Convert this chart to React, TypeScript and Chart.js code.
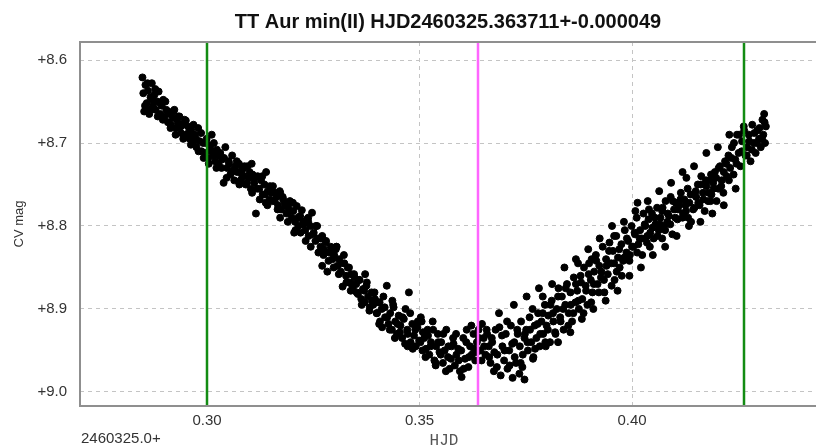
import React, { useEffect, useRef } from "react";
import { Chart, registerables } from "chart.js";

Chart.register(...registerables);

const titleText = "TT Aur min(II) HJD2460325.363711+-0.000049";
const yAxisLabel = "CV mag";
const xAxisLabel = "HJD";
const xOffsetLabel = "2460325.0+";
const xTicks = [0.3, 0.35, 0.4];
const yTicks = [8.6, 8.7, 8.8, 8.9, 9.0];
const xRange = [0.2701, 0.4433];
const yRange = [8.5783, 9.0169];
const minimumHjd = [0.363711];
const boundaryHjd = [0.3, 0.4264];

const hjd = [
  0.2848, 0.2850, 0.2852, 0.2855, 0.2858, 0.2861, 0.2864, 0.2867, 0.2870, 0.2873,
  0.2876, 0.2879, 0.2883, 0.2886, 0.2890, 0.2893, 0.2897, 0.2900, 0.2904, 0.2908,
  0.2912, 0.2915, 0.2919, 0.2923, 0.2927, 0.2931, 0.2935, 0.2939, 0.2943, 0.2947,
  0.2951, 0.2955, 0.2959, 0.2963, 0.2967, 0.2971, 0.2975, 0.2979, 0.2983, 0.2987,
  0.2991, 0.2995, 0.2999, 0.3003, 0.3007, 0.3011, 0.3015, 0.3019, 0.3023, 0.3027,
  0.3031, 0.3035, 0.3039, 0.3043, 0.3047, 0.3051, 0.3055, 0.3059, 0.3063, 0.3067,
  0.3071, 0.3075, 0.3079, 0.3083, 0.3087, 0.3091, 0.3095, 0.3099, 0.3103, 0.3107,
  0.3111, 0.3115, 0.3119, 0.3123, 0.3127, 0.3131, 0.3135, 0.3139, 0.3143, 0.3147,
  0.3151, 0.3155, 0.3159, 0.3163, 0.3167, 0.3171, 0.3175, 0.3179, 0.3183, 0.3187,
  0.3191, 0.3195, 0.3199, 0.3203, 0.3207, 0.3211, 0.3215, 0.3219, 0.3223, 0.3227,
  0.3231, 0.3235, 0.3239, 0.3243, 0.3247, 0.3251, 0.3255, 0.3259, 0.3263, 0.3267,
  0.3271, 0.3275, 0.3279, 0.3283, 0.3287, 0.3291, 0.3295, 0.3299, 0.3303, 0.3307,
  0.3311, 0.3315, 0.3319, 0.3323, 0.3327, 0.3331, 0.3335, 0.3339, 0.3343, 0.3347,
  0.3351, 0.3355, 0.3359, 0.3363, 0.3367, 0.3371, 0.3375, 0.3379, 0.3383, 0.3387,
  0.3391, 0.3395, 0.3399, 0.3403, 0.3407, 0.3411, 0.3415, 0.3419, 0.3423, 0.3427,
  0.3431, 0.3435, 0.3439, 0.3443, 0.3447, 0.3451, 0.3455, 0.3459, 0.3463, 0.3467,
  0.3471, 0.3475, 0.3479, 0.3483, 0.3487, 0.3491, 0.3495, 0.3499, 0.3503, 0.3507,
  0.3511, 0.3515, 0.3519, 0.3523, 0.3527, 0.3531, 0.3535, 0.3539, 0.3543, 0.3547,
  0.3551, 0.3555, 0.3559, 0.3563, 0.3567, 0.3571, 0.3575, 0.3579, 0.3583, 0.3587,
  0.3591, 0.3595, 0.3599, 0.3603, 0.3607, 0.3611, 0.3615, 0.3619, 0.3623, 0.3627,
  0.3631, 0.3635, 0.3639, 0.3643, 0.3647, 0.3651, 0.3655, 0.3659, 0.3663, 0.3667,
  0.3671, 0.3675, 0.3679, 0.3683, 0.3687, 0.3691, 0.3695, 0.3699, 0.3703, 0.3707,
  0.3711, 0.3715, 0.3719, 0.3723, 0.3727, 0.3731, 0.3735, 0.3739, 0.3743, 0.3747,
  0.3751, 0.3755, 0.3759, 0.3763, 0.3767, 0.3771, 0.3775, 0.3779, 0.3783, 0.3787,
  0.3791, 0.3795, 0.3799, 0.3803, 0.3807, 0.3811, 0.3815, 0.3819, 0.3823, 0.3827,
  0.3831, 0.3835, 0.3839, 0.3843, 0.3847, 0.3851, 0.3855, 0.3859, 0.3863, 0.3867,
  0.3871, 0.3875, 0.3879, 0.3883, 0.3887, 0.3891, 0.3895, 0.3899, 0.3903, 0.3907,
  0.3911, 0.3915, 0.3919, 0.3923, 0.3927, 0.3931, 0.3935, 0.3939, 0.3943, 0.3947,
  0.3951, 0.3955, 0.3959, 0.3963, 0.3967, 0.3971, 0.3975, 0.3979, 0.3983, 0.3987,
  0.3991, 0.3995, 0.3999, 0.4003, 0.4007, 0.4011, 0.4015, 0.4019, 0.4023, 0.4027,
  0.4031, 0.4035, 0.4039, 0.4043, 0.4047, 0.4051, 0.4055, 0.4059, 0.4063, 0.4067,
  0.4071, 0.4075, 0.4079, 0.4083, 0.4087, 0.4091, 0.4095, 0.4099, 0.4103, 0.4107,
  0.4111, 0.4115, 0.4119, 0.4123, 0.4127, 0.4131, 0.4135, 0.4139, 0.4143, 0.4147,
  0.4151, 0.4155, 0.4159, 0.4163, 0.4167, 0.4171, 0.4175, 0.4179, 0.4183, 0.4187,
  0.4191, 0.4195, 0.4199, 0.4203, 0.4207, 0.4211, 0.4215, 0.4219, 0.4223, 0.4227,
  0.4231, 0.4235, 0.4239, 0.4243, 0.4247, 0.4251, 0.4255, 0.4259, 0.4263, 0.4267,
  0.4271, 0.4275, 0.4279, 0.4283, 0.4287, 0.4291, 0.4295, 0.4299, 0.4303, 0.4307,
  0.4309, 0.4311, 0.4313, 0.4315,
  0.2854, 0.2860, 0.2866, 0.2872, 0.2878, 0.2884, 0.2890, 0.2896, 0.2902, 0.2908,
  0.2914, 0.2920, 0.2926, 0.2932, 0.2938, 0.2944, 0.2950, 0.2956, 0.2962, 0.2968,
  0.2974, 0.2980, 0.2986, 0.2992, 0.2998, 0.3004, 0.3010, 0.3016, 0.3022, 0.3028,
  0.3034, 0.3040, 0.3046, 0.3052, 0.3058, 0.3064, 0.3070, 0.3076, 0.3082, 0.3088,
  0.3094, 0.3100, 0.3106, 0.3112, 0.3118, 0.3124, 0.3130, 0.3136, 0.3142, 0.3148,
  0.3154, 0.3160, 0.3166, 0.3172, 0.3178, 0.3184, 0.3190, 0.3196, 0.3202, 0.3208,
  0.3214, 0.3220, 0.3226, 0.3232, 0.3238, 0.3244, 0.3250, 0.3256, 0.3262, 0.3268,
  0.3274, 0.3280, 0.3286, 0.3292, 0.3298, 0.3304, 0.3310, 0.3316, 0.3322, 0.3328,
  0.3334, 0.3340, 0.3346, 0.3352, 0.3358, 0.3364, 0.3370, 0.3376, 0.3382, 0.3388,
  0.3394, 0.3400, 0.3406, 0.3412, 0.3418, 0.3424, 0.3430, 0.3436, 0.3442, 0.3448,
  0.3454, 0.3460, 0.3466, 0.3472, 0.3478, 0.3484, 0.3490, 0.3496, 0.3502, 0.3508,
  0.3514, 0.3520, 0.3526, 0.3532, 0.3538, 0.3544, 0.3550, 0.3556, 0.3562, 0.3568,
  0.3574, 0.3580, 0.3586, 0.3592, 0.3598, 0.3604, 0.3610, 0.3616, 0.3622, 0.3628,
  0.3634, 0.3640, 0.3646, 0.3652, 0.3658, 0.3664, 0.3670, 0.3676, 0.3682, 0.3688,
  0.3694, 0.3700, 0.3706, 0.3712, 0.3718, 0.3724, 0.3730, 0.3736, 0.3742, 0.3748,
  0.3754, 0.3760, 0.3766, 0.3772, 0.3778, 0.3784, 0.3790, 0.3796, 0.3802, 0.3808,
  0.3814, 0.3820, 0.3826, 0.3832, 0.3838, 0.3844, 0.3850, 0.3856, 0.3862, 0.3868,
  0.3874, 0.3880, 0.3886, 0.3892, 0.3898, 0.3904, 0.3910, 0.3916, 0.3922, 0.3928,
  0.3934, 0.3940, 0.3946, 0.3952, 0.3958, 0.3964, 0.3970, 0.3976, 0.3982, 0.3988,
  0.3994, 0.4000, 0.4006, 0.4012, 0.4018, 0.4024, 0.4030, 0.4036, 0.4042, 0.4048,
  0.4054, 0.4060, 0.4066, 0.4072, 0.4078, 0.4084, 0.4090, 0.4096, 0.4102, 0.4108,
  0.4114, 0.4120, 0.4126, 0.4132, 0.4138, 0.4144, 0.4150, 0.4156, 0.4162, 0.4168,
  0.4174, 0.4180, 0.4186, 0.4192, 0.4198, 0.4204, 0.4210, 0.4216, 0.4222, 0.4228,
  0.4234, 0.4240, 0.4246, 0.4252, 0.4258, 0.4264, 0.4270, 0.4276, 0.4282, 0.4288,
  0.4294, 0.4300, 0.4306, 0.4312,
  0.3722, 0.3738, 0.3752, 0.3768, 0.3781, 0.3797, 0.3812, 0.3826, 0.3841, 0.3855,
  0.3868, 0.3882, 0.3897, 0.3909, 0.3924, 0.3938, 0.3953, 0.3966, 0.3981, 0.3994,
  0.4008, 0.4021, 0.4037, 0.4049, 0.4064, 0.4078, 0.4092, 0.4105, 0.4119, 0.4134,
  0.4146, 0.4161, 0.4175, 0.4189, 0.4202, 0.4216, 0.4229, 0.4244, 0.3747, 0.3873,
  0.3958, 0.4013, 0.4071, 0.4128, 0.4185, 0.3790, 0.3905, 0.4040,
  0.3105, 0.3138, 0.3172, 0.3205, 0.3238, 0.3271, 0.3305, 0.3338, 0.3372, 0.3405,
  0.3438, 0.3472, 0.3505, 0.3538,
];

const mag = [
  8.621, 8.640, 8.662, 8.630, 8.652, 8.637, 8.665, 8.645, 8.628, 8.655,
  8.642, 8.660, 8.650, 8.638, 8.665, 8.655, 8.648, 8.668, 8.660, 8.675,
  8.665, 8.678, 8.670, 8.660, 8.682, 8.675, 8.668, 8.688, 8.678, 8.672,
  8.690, 8.680, 8.695, 8.685, 8.700, 8.690, 8.705, 8.682, 8.698, 8.710,
  8.700, 8.712, 8.695, 8.718, 8.705, 8.690, 8.715, 8.722, 8.708, 8.725,
  8.712, 8.720, 8.748, 8.705, 8.730, 8.722, 8.738, 8.715, 8.732, 8.728,
  8.735, 8.725, 8.745, 8.732, 8.740, 8.750, 8.728, 8.742, 8.755, 8.738,
  8.748, 8.785, 8.740, 8.755, 8.745, 8.762, 8.750, 8.735, 8.758, 8.768,
  8.760, 8.752, 8.770, 8.765, 8.775, 8.758, 8.780, 8.768, 8.772, 8.785,
  8.778, 8.770, 8.790, 8.782, 8.795, 8.776, 8.800, 8.788, 8.781, 8.798,
  8.805, 8.792, 8.812, 8.800, 8.784, 8.808, 8.818, 8.800, 8.815, 8.825,
  8.812, 8.828, 8.820, 8.855, 8.832, 8.825, 8.840, 8.835, 8.828, 8.848,
  8.840, 8.855, 8.873, 8.845, 8.860, 8.850, 8.868, 8.858, 8.875, 8.862,
  8.870, 8.882, 8.865, 8.888, 8.876, 8.892, 8.872, 8.885, 8.898, 8.880,
  8.895, 8.888, 8.905, 8.892, 8.915, 8.900, 8.885, 8.910, 8.872, 8.918,
  8.905, 8.925, 8.898, 8.915, 8.930, 8.908, 8.920, 8.935, 8.912, 8.900,
  8.925, 8.880, 8.940, 8.918, 8.932, 8.945, 8.922, 8.938, 8.910, 8.950,
  8.935, 8.948, 8.925, 8.955, 8.940, 8.915, 8.962, 8.945, 8.930, 8.952,
  8.940, 8.965, 8.950, 8.925, 8.958, 8.972, 8.945, 8.935, 8.968, 8.955,
  8.948, 8.975, 8.982, 8.935, 8.960, 8.925, 8.970, 8.945, 8.955, 8.930,
  8.962, 8.940, 8.925, 8.950, 8.918, 8.935, 8.955, 8.930, 8.945, 8.965,
  8.940, 8.975, 8.925, 8.955, 8.905, 8.980, 8.945, 8.962, 8.930, 8.972,
  8.950, 8.920, 8.983, 8.940, 8.965, 8.930, 8.978, 8.915, 8.955, 8.935,
  8.925, 8.950, 8.910, 8.940, 8.960, 8.920, 8.935, 8.905, 8.945, 8.915,
  8.930, 8.895, 8.920, 8.908, 8.940, 8.890, 8.915, 8.928, 8.900, 8.875,
  8.910, 8.885, 8.925, 8.895, 8.870, 8.905, 8.880, 8.915, 8.862, 8.892,
  8.878, 8.900, 8.860, 8.888, 8.850, 8.872, 8.895, 8.845, 8.865, 8.880,
  8.855, 8.835, 8.870, 8.848, 8.862, 8.825, 8.880, 8.840, 8.858, 8.820,
  8.845, 8.830, 8.865, 8.812, 8.838, 8.850, 8.822, 8.842, 8.805, 8.832,
  8.818, 8.835, 8.800, 8.825, 8.810, 8.790, 8.822, 8.805, 8.815, 8.785,
  8.800, 8.820, 8.792, 8.808, 8.785, 8.815, 8.798, 8.778, 8.805, 8.790,
  8.782, 8.800, 8.770, 8.795, 8.788, 8.765, 8.810, 8.780, 8.772, 8.792,
  8.775, 8.760, 8.790, 8.768, 8.782, 8.755, 8.772, 8.795, 8.762, 8.778,
  8.765, 8.750, 8.775, 8.740, 8.760, 8.782, 8.752, 8.770, 8.745, 8.762,
  8.748, 8.735, 8.770, 8.755, 8.728, 8.745, 8.760, 8.722, 8.740, 8.715,
  8.730, 8.705, 8.738, 8.720, 8.690, 8.712, 8.728, 8.698, 8.680, 8.715,
  8.705, 8.690, 8.722, 8.678, 8.700, 8.712, 8.685, 8.695, 8.705, 8.672,
  8.690, 8.665, 8.700, 8.680,
  8.655, 8.628, 8.660, 8.648, 8.635, 8.668, 8.652, 8.672, 8.650, 8.662,
  8.682, 8.662, 8.690, 8.668, 8.680, 8.695, 8.673, 8.688, 8.702, 8.678,
  8.695, 8.710, 8.688, 8.718, 8.700, 8.725, 8.710, 8.700, 8.730, 8.715,
  8.730, 8.718, 8.742, 8.725, 8.735, 8.745, 8.722, 8.750, 8.738, 8.728,
  8.748, 8.735, 8.760, 8.742, 8.755, 8.768, 8.740, 8.762, 8.775, 8.752,
  8.770, 8.760, 8.780, 8.790, 8.765, 8.775, 8.795, 8.782, 8.772, 8.805,
  8.790, 8.808, 8.795, 8.818, 8.790, 8.825, 8.810, 8.800, 8.832, 8.815,
  8.835, 8.818, 8.842, 8.830, 8.850, 8.825, 8.858, 8.845, 8.835, 8.868,
  8.850, 8.870, 8.858, 8.880, 8.865, 8.895, 8.878, 8.868, 8.902, 8.890,
  8.880, 8.905, 8.892, 8.922, 8.898, 8.910, 8.925, 8.890, 8.935, 8.918,
  8.928, 8.910, 8.942, 8.930, 8.905, 8.948, 8.925, 8.915, 8.940, 8.928,
  8.958, 8.932, 8.945, 8.925, 8.968, 8.940, 8.955, 8.930, 8.975, 8.945,
  8.960, 8.942, 8.930, 8.962, 8.950, 8.972, 8.940, 8.958, 8.920, 8.948,
  8.952, 8.935, 8.962, 8.945, 8.925, 8.958, 8.935, 8.952, 8.970, 8.922,
  8.932, 8.950, 8.915, 8.968, 8.942, 8.958, 8.925, 8.945, 8.970, 8.930,
  8.940, 8.925, 8.900, 8.948, 8.918, 8.930, 8.905, 8.940, 8.925, 8.895,
  8.905, 8.930, 8.885, 8.915, 8.900, 8.875, 8.920, 8.895, 8.905, 8.870,
  8.890, 8.868, 8.905, 8.878, 8.858, 8.892, 8.870, 8.842, 8.880, 8.855,
  8.865, 8.848, 8.830, 8.872, 8.845, 8.855, 8.828, 8.860, 8.838, 8.815,
  8.842, 8.825, 8.808, 8.832, 8.815, 8.835, 8.798, 8.812, 8.825, 8.802,
  8.790, 8.812, 8.798, 8.778, 8.805, 8.785, 8.798, 8.770, 8.790, 8.780,
  8.768, 8.785, 8.775, 8.790, 8.762, 8.780, 8.758, 8.772, 8.750, 8.768,
  8.745, 8.760, 8.738, 8.755, 8.742, 8.730, 8.752, 8.735, 8.725, 8.745,
  8.718, 8.700, 8.725, 8.690, 8.710, 8.685, 8.715, 8.698, 8.708, 8.688,
  8.700, 8.682, 8.695, 8.675,
  8.895, 8.965, 8.885, 8.958, 8.875, 8.945, 8.870, 8.940, 8.850, 8.928,
  8.840, 8.912, 8.828, 8.900, 8.815, 8.890, 8.800, 8.878, 8.795, 8.860,
  8.782, 8.850, 8.770, 8.835, 8.758, 8.825, 8.748, 8.812, 8.735, 8.800,
  8.728, 8.795, 8.712, 8.785, 8.705, 8.775, 8.690, 8.755, 8.985, 8.845,
  8.812, 8.772, 8.815, 8.742, 8.770, 8.885, 8.840, 8.780,
  8.725, 8.772, 8.760, 8.808, 8.795, 8.848, 8.825, 8.878, 8.858, 8.918,
  8.895, 8.945, 8.915, 8.965,
];

const FONT = '"Liberation Sans", Arial, sans-serif';

const overlayPlugin = {
  id: "overlay",
  afterDatasetsDraw(chart: any) {
    const { ctx, chartArea: a, scales } = chart;
    const x = scales.x;
    ctx.save();
    ctx.lineWidth = 2.5;
    ctx.strokeStyle = "#ff66ff";
    for (const v of minimumHjd) {
      const px = Math.round(x.getPixelForValue(v));
      ctx.beginPath();
      ctx.moveTo(px, a.top);
      ctx.lineTo(px, a.bottom);
      ctx.stroke();
    }
    ctx.strokeStyle = "#138c13";
    for (const v of boundaryHjd) {
      const px = Math.round(x.getPixelForValue(v));
      ctx.beginPath();
      ctx.moveTo(px, a.top);
      ctx.lineTo(px, a.bottom);
      ctx.stroke();
    }
    ctx.strokeStyle = "#8f8f8f";
    ctx.lineWidth = 2;
    ctx.beginPath();
    ctx.moveTo(a.right, a.top);
    ctx.lineTo(a.left, a.top);
    ctx.lineTo(a.left, a.bottom);
    ctx.lineTo(a.right, a.bottom);
    ctx.stroke();
    ctx.restore();
  },
  afterDraw(chart: any) {
    const { ctx, chartArea: a } = chart;
    ctx.save();
    ctx.fillStyle = "#111";
    ctx.font = "bold 20px " + FONT;
    ctx.textAlign = "center";
    ctx.textBaseline = "alphabetic";
    ctx.fillText(titleText, (a.left + a.right) / 2, 28);

    ctx.fillStyle = "#333";
    ctx.font = "15px " + FONT;
    ctx.textAlign = "left";
    ctx.textBaseline = "middle";
    ctx.fillText(xOffsetLabel, a.left + 1, 439);

    ctx.font = '16px "Liberation Mono", "Courier New", monospace';
    ctx.fillStyle = "#555";
    ctx.textAlign = "center";
    ctx.fillText(xAxisLabel, (a.left + a.right) / 2 - 4, 441);

    ctx.translate(19, (a.top + a.bottom) / 2);
    ctx.rotate(-Math.PI / 2);
    ctx.font = "13px " + FONT;
    ctx.fillStyle = "#333";
    ctx.textAlign = "center";
    ctx.fillText(yAxisLabel, 0, 0);
    ctx.restore();
  },
};

export default function App() {
  const ref = useRef<HTMLCanvasElement | null>(null);
  useEffect(() => {
    if (!ref.current) return;
    const points = hjd.map((x, i) => ({ x, y: mag[i] }));
    const chart = new Chart(ref.current, {
      type: "scatter",
      data: {
        datasets: [
          {
            data: points,
            backgroundColor: "#000",
            borderColor: "#000",
            pointRadius: 3.5,
            pointBorderWidth: 1,
            showLine: false,
          },
        ],
      },
      options: {
        animation: false,
        responsive: true,
        maintainAspectRatio: false,
        layout: { autoPadding: false, padding: { top: 42, left: 0, right: 0, bottom: 0 } },
        plugins: {
          legend: { display: false },
          title: { display: false },
          tooltip: { enabled: false },
        },
        scales: {
          x: {
            type: "linear",
            min: xRange[0],
            max: xRange[1],
            afterBuildTicks: (s: any) => {
              s.ticks = xTicks.map((v) => ({ value: v }));
            },
            afterFit: (s: any) => {
              s.height = 41;
            },
            grid: { color: "#c4c4c4", lineWidth: 1, drawTicks: false },
            border: { display: false, dash: [4, 4] },
            ticks: {
              padding: 6,
              autoSkip: false,
              maxRotation: 0,
              color: "#333",
              font: { family: FONT, size: 15 },
              callback: (v: any) => Number(v).toFixed(2),
            },
          },
          y: {
            type: "linear",
            reverse: true,
            min: yRange[0],
            max: yRange[1],
            afterBuildTicks: (s: any) => {
              s.ticks = yTicks.map((v) => ({ value: v }));
            },
            afterFit: (s: any) => {
              s.width = 80;
            },
            grid: { color: "#c4c4c4", lineWidth: 1, drawTicks: false },
            border: { display: false, dash: [4, 4] },
            ticks: {
              padding: 13,
              color: "#333",
              font: { family: FONT, size: 15 },
              callback: (v: any) => "+" + Number(v).toFixed(1),
            },
          },
        },
      },
      plugins: [overlayPlugin],
    });
    return () => chart.destroy();
  }, []);

  return (
    <div style={{ position: "absolute", left: 0, top: 0, width: 816, height: 447, background: "#fff" }}>
      <canvas ref={ref} />
    </div>
  );
}
